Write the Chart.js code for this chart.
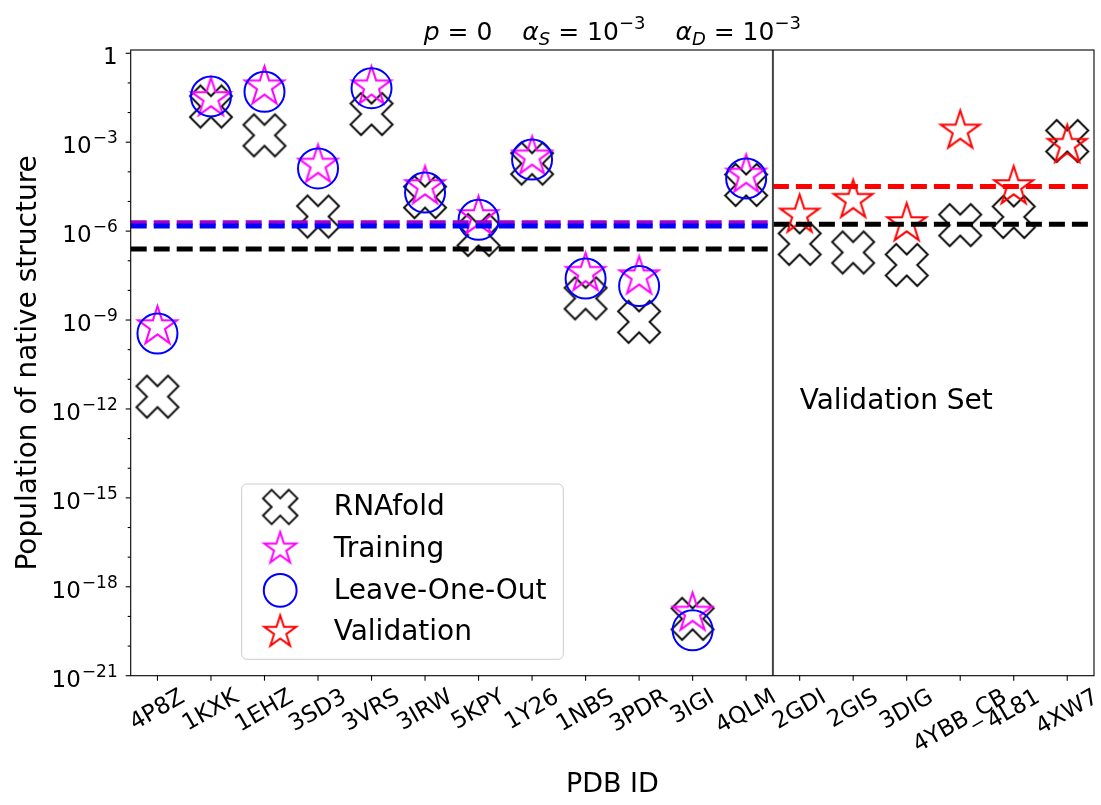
<!DOCTYPE html>
<html>
<head>
<meta charset="utf-8">
<script src="https://cdn.jsdelivr.net/npm/chart.js@4.4.1/dist/chart.umd.min.js"></script>
<style>
  html, body { margin: 0; padding: 0; background: #fff; }
  #wrap { width: 1101px; height: 805px; }
</style>
</head>
<body>
<div id="wrap"><canvas id="chart" width="1101" height="805"></canvas></div>
<script>
/* PDB structures: first 12 are the training set, last 6 the validation set */
const pdbIds = ["4P8Z", "1KXK", "1EHZ", "3SD3", "3VRS", "3IRW", "5KPY", "1Y26", "1NBS", "3PDR",
                "3IGI", "4QLM", "2GDI", "2GIS", "3DIG", "4YBB_CB", "4L81", "4XW7"];
const trainCount = 12;

// population of the native structure
const rnafoldPop = [2.6e-12, 1.6e-2, 1.7e-3, 3.1e-6, 8.9e-3, 1.4e-5, 7.4e-7, 1.9e-4, 5.4e-9, 8.7e-10,
                    8.3e-20, 3.6e-5, 3.7e-7, 1.9e-7, 7.2e-8, 1.6e-6, 3.0e-6, 1.1e-3];
const trainingPop = [6.0e-10, 3.0e-2, 7.4e-2, 1.7e-4, 7.4e-2, 3.2e-5, 3.1e-6, 3.2e-4, 3.8e-8, 2.9e-8,
                     1.3e-19, 7.8e-5];
const leaveOneOutPop = [3.5e-10, 3.5e-2, 5.0e-2, 1.3e-4, 6.6e-2, 2.0e-5, 2.4e-6, 2.6e-4, 2.5e-8, 1.4e-8,
                        3.4e-20, 6.0e-5];
const validationPop = [3.5e-6, 1.1e-5, 1.8e-6, 2.4e-3, 3.2e-5, 7.9e-4];

// dashed reference levels
const trainingMean = 1.9e-6;
const leaveOneOutMean = 1.5e-6;
const rnafoldTrainMean = 2.5e-7;
const validationMean = 3.2e-5;
const rnafoldValidMean = 1.7e-6;

// y axis decades
const yMajorExps = [0, -3, -6, -9, -12, -15, -18, -21];
const yMinorExps = Array.from({ length: 22 }, (_, i) => -i);
const yMin = 1e-21;
const yMax = 1.29;

const FONT = "'DejaVu Sans', sans-serif";

// ------------------------------------------------------------------
// Marker images (matplotlib-like 'X', '*')
// ------------------------------------------------------------------

function makeXMarker(half, color, lw) {
  const c = document.createElement("canvas");
  const s = Math.ceil(half * 2 + lw * 2 + 2);
  c.width = c.height = s;
  const g = c.getContext("2d");
  const size = half / 0.4714;
  const pts = [[-1,-3],[-1,-1],[-3,-1],[-3,1],[-1,1],[-1,3],[1,3],[1,1],[3,1],[3,-1],[1,-1],[1,-3]];
  const r = Math.SQRT1_2;
  g.translate(s / 2, s / 2);
  g.beginPath();
  pts.forEach(([px, py], i) => {
    const ux = px / 6 * size, uy = py / 6 * size;
    const x = (ux - uy) * r, y = (ux + uy) * r;
    if (i === 0) g.moveTo(x, y); else g.lineTo(x, y);
  });
  g.closePath();
  g.lineJoin = "miter";
  g.strokeStyle = color;
  g.lineWidth = lw;
  g.stroke();
  return c;
}

function makeStarMarker(rad, color, lw) {
  const c = document.createElement("canvas");
  const s = Math.ceil(rad * 2 + lw * 2 + 4);
  c.width = c.height = s;
  const g = c.getContext("2d");
  g.translate(s / 2, s / 2);
  g.beginPath();
  for (let i = 0; i < 10; i++) {
    const rr = i % 2 === 0 ? rad : rad * 0.381966;
    const ang = -Math.PI / 2 + i * Math.PI / 5;
    const x = rr * Math.cos(ang), y = rr * Math.sin(ang);
    if (i === 0) g.moveTo(x, y); else g.lineTo(x, y);
  }
  g.closePath();
  g.lineJoin = "miter";
  g.strokeStyle = color;
  g.lineWidth = lw;
  g.stroke();
  return c;
}

const xMark = makeXMarker(21, "#111", 2);
const magStar = makeStarMarker(20.5, "#ff00ff", 2);
const redStar = makeStarMarker(20.5, "#ff0000", 2);

// ------------------------------------------------------------------
// Datasets
// ------------------------------------------------------------------

const pts = (arr, offset = 0) => arr.map((v, i) => ({ x: i + offset, y: v }));
const hline = (v, x0, x1) => [{ x: x0, y: v }, { x: x1, y: v }];
const splitX = trainCount - 0.5;
const xEnd = pdbIds.length - 0.5;

function dashed(data, color, order) {
  return {
    data, showLine: true, pointRadius: 0, borderColor: color,
    borderWidth: 5, borderDash: [16, 7], order,
  };
}

const datasets = [
  { label: "RNAfold", data: pts(rnafoldPop), pointStyle: xMark, pointRadius: 21, order: 9 },
  { label: "Training", data: pts(trainingPop), pointStyle: magStar, pointRadius: 20, order: 8 },
  { label: "Leave-One-Out", data: pts(leaveOneOutPop), pointStyle: "circle", pointRadius: 20,
    pointBorderColor: "#0000ff", pointBackgroundColor: "rgba(0,0,0,0)", pointBorderWidth: 2, order: 7 },
  { label: "Validation", data: pts(validationPop, trainCount), pointStyle: redStar, pointRadius: 20, order: 6 },
  dashed(hline(rnafoldTrainMean, -0.5, splitX), "#000", 5),
  dashed(hline(trainingMean, -0.5, splitX), "#a000c8", 4),
  dashed(hline(leaveOneOutMean, -0.5, splitX), "#0000ff", 3),
  dashed(hline(rnafoldValidMean, splitX, xEnd), "#000", 3),
  dashed(hline(validationMean, splitX, xEnd), "#ff0000", 3),
  { data: [{ x: splitX, y: yMin }, { x: splitX, y: yMax }], showLine: true, pointRadius: 0,
    borderColor: "#444", borderWidth: 2, order: 1 },
];

// ------------------------------------------------------------------
// Frame, ticks, title, legend, annotation
// ------------------------------------------------------------------

function drawMath(ctx, parts, cx, baseline) {
  // parts: [text, style]; style "" upright, "i" italic, "sub"/"sup" script, number = gap in px
  const size = 25;
  const small = 18;
  const fontFor = (st) => {
    if (st === "i") return `oblique ${size}px ${FONT}`;
    if (st === "sub") return `oblique ${small}px ${FONT}`;
    if (st === "sup") return `${small}px ${FONT}`;
    return `${size}px ${FONT}`;
  };
  const widthOf = ([t, st]) => {
    if (typeof t === "number") return t;
    ctx.font = fontFor(st);
    return ctx.measureText(t).width;
  };
  const total = parts.reduce((s, p) => s + widthOf(p), 0);
  let x = cx - total / 2;
  ctx.textAlign = "left";
  ctx.textBaseline = "alphabetic";
  parts.forEach(p => {
    const [t, st] = p;
    if (typeof t !== "number") {
      ctx.font = fontFor(st);
      const dy = st === "sub" ? 5 : st === "sup" ? -11 : 0;
      ctx.fillText(t, x, baseline + dy);
    }
    x += widthOf(p);
  });
}

const decor = {
  id: "decor",
  afterDraw(chart) {
    const { ctx, chartArea: a, scales: { x, y } } = chart;
    ctx.save();
    ctx.fillStyle = "#000";
    ctx.strokeStyle = "#000";
    ctx.lineWidth = 1.1;

    // spines
    ctx.strokeRect(a.left, a.top, a.right - a.left, a.bottom - a.top);

    // y ticks
    yMinorExps.forEach(e => {
      const py = y.getPixelForValue(Math.pow(10, e));
      const major = yMajorExps.includes(e);
      ctx.beginPath();
      ctx.moveTo(a.left, py);
      ctx.lineTo(a.left - (major ? 5 : 3), py);
      ctx.stroke();
    });
    ctx.textBaseline = "alphabetic";
    ctx.textAlign = "right";
    yMajorExps.forEach(e => {
      const py = y.getPixelForValue(Math.pow(10, e));
      const right = a.left - 13;
      if (e === 0) {
        ctx.font = `23px ${FONT}`;
        ctx.fillText("1", right, py + 11);
        return;
      }
      ctx.font = `17px ${FONT}`;
      const sup = "\u2212" + Math.abs(e);
      const wSup = ctx.measureText(sup).width;
      ctx.fillText(sup, right, py + 1);
      ctx.font = `23px ${FONT}`;
      ctx.fillText("10", right - wSup - 1, py + 11);
    });

    // x ticks and rotated labels
    ctx.font = `23px ${FONT}`;
    const ang = Math.PI / 6;
    pdbIds.forEach((id, i) => {
      const px = x.getPixelForValue(i);
      ctx.beginPath();
      ctx.moveTo(px, a.bottom);
      ctx.lineTo(px, a.bottom + 5);
      ctx.stroke();
      const w = ctx.measureText(id).width;
      const h = 23;
      const bh = w * Math.sin(ang) + h * Math.cos(ang);
      const cy = a.bottom + 10 + bh / 2;
      ctx.save();
      ctx.translate(px, cy);
      ctx.rotate(-ang);
      ctx.textAlign = "center";
      ctx.textBaseline = "middle";
      ctx.fillText(id, 0, 0);
      ctx.restore();
    });

    // annotation
    ctx.font = `28px ${FONT}`;
    ctx.textAlign = "left";
    ctx.textBaseline = "alphabetic";
    ctx.fillText("Validation Set", x.getPixelForValue(trainCount), y.getPixelForValue(1e-12));

    // title
    drawMath(ctx, [
      ["p", "i"], [" = 0", ""], [30, ""],
      ["\u03b1", "i"], ["S", "sub"], [" = 10", ""], ["\u22123", "sup"], [30, ""],
      ["\u03b1", "i"], ["D", "sub"], [" = 10", ""], ["\u22123", "sup"],
    ], (a.left + a.right) / 2, 40);

    // legend
    const lx = a.left + 111, ly = a.bottom - 191.7, lw = 321.6, lh = 175.3;
    ctx.beginPath();
    ctx.roundRect(lx, ly, lw, lh, 5);
    ctx.fillStyle = "rgba(255,255,255,0.8)";
    ctx.fill();
    ctx.strokeStyle = "#cccccc";
    ctx.lineWidth = 1;
    ctx.stroke();
    const entries = [
      ["RNAfold", makeXMarker(17.2, "#111", 2)],
      ["Training", makeStarMarker(16.8, "#ff00ff", 2)],
      ["Leave-One-Out", "circle"],
      ["Validation", makeStarMarker(16.8, "#ff0000", 2)],
    ];
    entries.forEach(([label, mk], k) => {
      const cy = ly + 23 + k * 41.7;
      const mx = lx + 38.5;
      if (mk === "circle") {
        ctx.beginPath();
        ctx.arc(mx, cy, 16.4, 0, Math.PI * 2);
        ctx.strokeStyle = "#0000ff";
        ctx.lineWidth = 2;
        ctx.stroke();
      } else {
        ctx.drawImage(mk, mx - mk.width / 2, cy - mk.height / 2);
      }
      ctx.fillStyle = "#000";
      ctx.font = `28px ${FONT}`;
      ctx.textAlign = "left";
      ctx.textBaseline = "middle";
      ctx.fillText(label, lx + 92, cy + 1);
    });

    ctx.restore();
  },
};

// ------------------------------------------------------------------
// Chart
// ------------------------------------------------------------------

new Chart(document.getElementById("chart").getContext("2d"), {
  type: "scatter",
  data: { datasets },
  options: {
    responsive: false,
    animation: false,
    layout: { autoPadding: false, padding: { top: 50, right: 7, bottom: 4, left: 8 } },
    plugins: { legend: { display: false }, tooltip: { enabled: false } },
    scales: {
      x: {
        type: "linear",
        min: -0.5,
        max: xEnd,
        grid: { display: false, drawTicks: false },
        border: { display: false },
        ticks: { display: false },
        title: { display: true, text: "PDB ID", color: "#000", font: { family: FONT, size: 27 }, padding: 0 },
        afterFit: s => { s.height = 805 - 4 - 675.7; },
      },
      y: {
        type: "logarithmic",
        min: yMin,
        max: yMax,
        grid: { display: false, drawTicks: false },
        border: { display: false },
        ticks: { display: false },
        title: { display: true, text: "Population of native structure", color: "#000",
                 font: { family: FONT, size: 28 }, padding: { top: 4, bottom: 0 } },
        afterFit: s => { s.width = 130.7 - 8; },
      },
    },
  },
  plugins: [decor],
});
</script>
</body>
</html>
